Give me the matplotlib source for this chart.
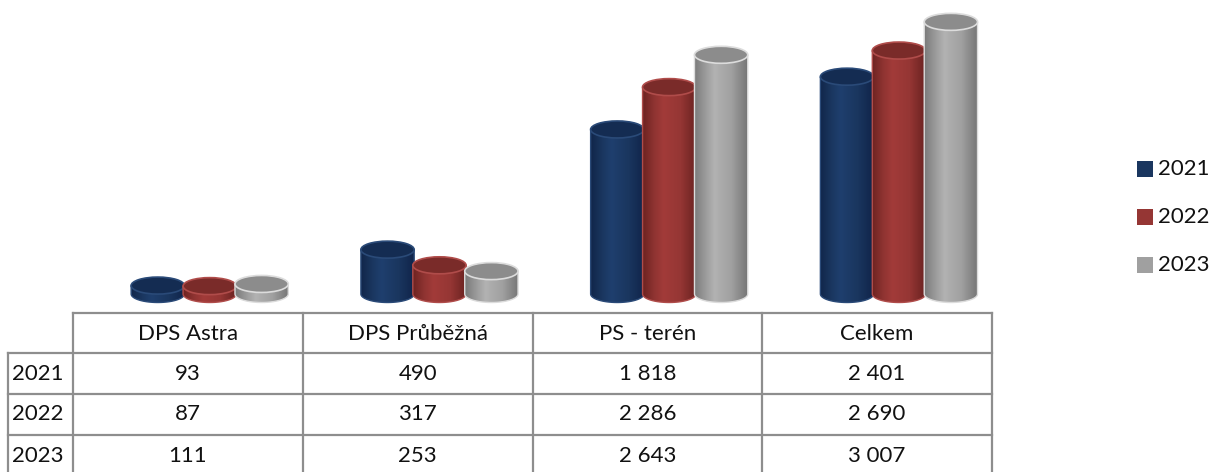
import numpy as np
import matplotlib
matplotlib.use("Agg")
import matplotlib.pyplot as plt
from matplotlib.path import Path
from matplotlib.patches import PathPatch, Ellipse, Rectangle
from matplotlib.colors import LinearSegmentedColormap

plt.rcParams['font.family'] = ['Lato', 'DejaVu Sans']

categories = ["DPS Astra", "DPS Průběžná", "PS - terén", "Celkem"]
years = ["2021", "2022", "2023"]
v2021 = [93, 490, 1818, 2401]
v2022 = [87, 317, 2286, 2690]
v2023 = [111, 253, 2643, 3007]
series = [v2021, v2022, v2023]

# body gradient (edge, mid, highlight, mid, edge), top, rim
styles = [
    (["#11264a", "#1a365f", "#1f3f6e", "#1a365f", "#10244a"], "#142c52", "#2a4a78"),
    (["#6e2422", "#8f3331", "#a23b39", "#953634", "#6a2220"], "#7a2b29", "#b04c4a"),
    (["#7a7a7a", "#9a9a9a", "#b2b2b2", "#a0a0a0", "#767676"], "#8c8c8c", "#dcdcdc"),
]

W, H = 1216, 472
fig = plt.figure(figsize=(W / 100, H / 100), dpi=100)

# bar area: value 0 at y=294px, 0.0905 px per unit
base_px = 294
pad_px = 20
scale = 0.0905
col_l, col_r = 73, 992
ax = fig.add_axes([col_l / W, (H - base_px - pad_px) / H, (col_r - col_l) / W, (base_px + pad_px) / H])
ymin = -pad_px / scale
ymax = base_px / scale
ax.axis("off")

bw = 0.232
step = 0.226
shift = 0.095
eh = 8.5 / scale  # half ellipse height in data units

t = np.linspace(np.pi, 2 * np.pi, 40)
for j, vals in enumerate(series):
    grad, top_c, rim_c = styles[j]
    cmap = LinearSegmentedColormap.from_list("g%d" % j, list(zip([0, 0.2, 0.38, 0.7, 1.0], grad)))
    for i, v in enumerate(vals):
        xc = i + shift + (j - 1) * step
        xl, xr = xc - bw / 2, xc + bw / 2
        arc = np.column_stack([xc + bw / 2 * np.cos(t), eh * np.sin(t)])
        verts = [(xl, v)] + [(xl, 0)] + arc.tolist() + [(xr, v), (xl, v)]
        codes = [Path.MOVETO] + [Path.LINETO] * (len(verts) - 2) + [Path.CLOSEPOLY]
        body = PathPatch(Path(verts, codes), facecolor="none", edgecolor=rim_c, lw=1.0,
                         zorder=2 + j * 3)
        ax.add_patch(body)
        im = ax.imshow(np.linspace(0, 1, 64)[None, :], cmap=cmap, aspect="auto",
                       extent=[xl, xr, -eh, v + eh], zorder=1 + j * 3)
        im.set_clip_path(body)
        ax.add_patch(Ellipse((xc, v), bw, 2 * eh, facecolor=top_c, edgecolor=rim_c,
                             lw=1.2, clip_on=False, zorder=3 + j * 3))
ax.set_xlim(-0.5, 3.5)
ax.set_ylim(ymin, ymax)

# data table below, in pixel coordinates
tax = fig.add_axes([0, 0, 1, 1])
tax.set_xlim(0, W)
tax.set_ylim(H, 0)
tax.axis("off")
lc = "#8e8e8e"
lw = 1.6
fs = 16
cols = np.linspace(col_l, col_r, len(categories) + 1)
head_top, head_bot, row_h = 313, 353, 41
left = 8
bottom = head_bot + row_h * len(years)
tax.plot([col_l, col_r], [head_top, head_top], color=lc, lw=lw)
for k in range(len(years)):
    y = head_bot + row_h * k
    tax.plot([left, col_r], [y, y], color=lc, lw=lw)
tax.plot([left, left], [head_bot, bottom], color=lc, lw=lw, clip_on=False)
for c in cols:
    tax.plot([c, c], [head_top, bottom], color=lc, lw=lw, clip_on=False)

for i, name in enumerate(categories):
    cx = (cols[i] + cols[i + 1]) / 2
    tax.text(cx, (head_top + head_bot) / 2 + 1, name, ha="center", va="center", fontsize=fs, color="#111111")
    for k, vals in enumerate(series):
        txt = "{:,}".format(vals[i]).replace(",", " ")
        tax.text(cx, head_bot + row_h * k + row_h / 2, txt, ha="center", va="center",
                 fontsize=fs, color="#111111")
for k, yr in enumerate(years):
    tax.text(left + 4, head_bot + row_h * k + row_h / 2, yr, ha="left", va="center",
             fontsize=fs, color="#111111")

# legend
leg_cols = ["#1a365f", "#953634", "#a0a0a0"]
for k, yr in enumerate(years):
    yc = 169 + 48 * k
    tax.add_patch(Rectangle((1137, yc - 8), 16, 16, facecolor=leg_cols[k], edgecolor="none"))
    tax.text(1158, yc, yr, ha="left", va="center", fontsize=fs, color="#111111")

fig.savefig("out.png", dpi=100)
